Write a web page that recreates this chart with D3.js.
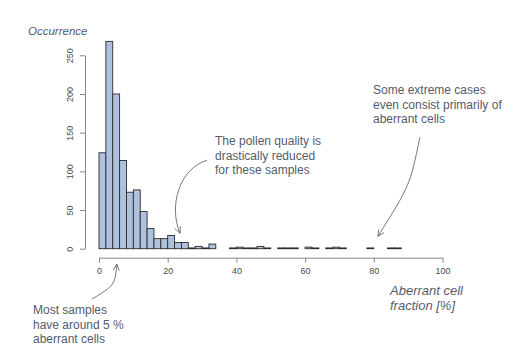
<html>
<head>
<script src="https://d3js.org/d3.v7.min.js"></script>
<style>
body { margin: 0; background: #fff; font-family: 'Liberation Sans', Arial, sans-serif; }
</style>
</head>
<body>
<div id="chart"></div>
<script>
// histogram of aberrant cell fraction, bins of 2 %
var binWidth = 2;
var counts = [124, 268, 200, 114, 73, 76, 48, 26, 13, 13, 17, 8, 8, 1, 3, 1, 6, 0, 0, 1,
              2, 1, 1, 3, 1, 0, 1, 1, 1, 0, 2, 1, 0, 1, 2, 1, 0, 0, 0, 1, 0, 0, 1, 1];
var xTicks = [0, 20, 40, 60, 80, 100];
var yTicks = [0, 50, 100, 150, 200, 250];

// notes: tip is in data units, start/ctrl are pixel offsets from the tip
var notes = [
  {lines: ["The pollen quality is", "drastically reduced", "for these samples"], tx: 215, ty: 145,
   tip: [23.6, 20], start: [27, -73], c1: [0, -65], c2: [-12, -28]},
  {lines: ["Some extreme cases", "even consist primarily of", "aberrant cells"], tx: 373, ty: 94,
   tip: [81.2, 16], start: [42, -99], c1: [32, -51], c2: [32, -51]},
  {lines: ["Most samples", "have around 5 %", "aberrant cells"], tx: 33, ty: 314,
   tip: [5.2, -20], start: [-25, 35], c1: [-2, 21], c2: [-2, 21]}
];

var width = 519, height = 360;
var svg = d3.select("#chart").append("svg").attr("width", width).attr("height", height);

var x = d3.scaleLinear().domain([0, 100]).range([99, 442.5]);
var y = d3.scaleLinear().domain([0, 250]).range([248.7, 55.3]);

var textCol = "#555c6b";

// bars
svg.selectAll(".bar")
  .data(counts)
  .enter().append("rect")
  .attr("class", "bar")
  .attr("x", function(d, i) { return x(i * binWidth); })
  .attr("width", function(d, i) { return x((i + 1) * binWidth) - x(i * binWidth); })
  .attr("y", function(d) { return y(d); })
  .attr("height", function(d) { return y(0) - y(d); })
  .style("fill", "#afc2dd")
  .style("stroke", "#2b2b2b")
  .style("stroke-width", 0.9);

// x axis
var xAxis = svg.append("g").attr("transform", "translate(0,257.7)")
  .call(d3.axisBottom(x).tickValues(xTicks).tickSize(5).tickPadding(5).tickSizeOuter(0));
xAxis.select(".domain").attr("stroke", "#888");
xAxis.selectAll(".tick line").attr("stroke", "#888");
xAxis.selectAll(".tick text").attr("fill", "#4a4a4a").style("font-size", "9px")
  .style("font-family", "'Liberation Sans', Arial, sans-serif");

// y axis
var yAxis = svg.append("g").attr("transform", "translate(85,0)")
  .call(d3.axisLeft(y).tickValues(yTicks).tickSize(5).tickPadding(0).tickSizeOuter(0));
yAxis.select(".domain").attr("stroke", "#888");
yAxis.selectAll(".tick line").attr("stroke", "#888");
yAxis.selectAll(".tick text")
  .attr("x", 0).attr("dy", 0)
  .attr("transform", "translate(-12,0) rotate(-90)")
  .attr("text-anchor", "middle")
  .attr("fill", "#4a4a4a").style("font-size", "9px")
  .style("font-family", "'Liberation Sans', Arial, sans-serif");

// axis titles
svg.append("text").attr("x", 28).attr("y", 35)
  .style("font-style", "italic").style("font-size", "11.5px").attr("fill", textCol)
  .text("Occurrence");

svg.append("text").attr("x", 390).attr("y", 294.5)
  .style("font-style", "italic").style("font-size", "13px").attr("fill", textCol)
  .selectAll("tspan").data(["Aberrant cell", "fraction [%]"])
  .enter().append("tspan").attr("x", 390).attr("dy", function(d, i) { return i ? 15 : 0; })
  .text(function(d) { return d; });

// annotations
notes.forEach(function(n) {
  svg.append("text").attr("x", n.tx).attr("y", n.ty)
    .style("font-size", "12px").attr("fill", textCol)
    .selectAll("tspan").data(n.lines)
    .enter().append("tspan").attr("x", n.tx).attr("dy", function(d, i) { return i ? 14.5 : 0; })
    .text(function(d) { return d; });

  var tx = x(n.tip[0]), ty = y(n.tip[1]);
  var p = d3.path();
  p.moveTo(tx + n.start[0], ty + n.start[1]);
  p.bezierCurveTo(tx + n.c1[0], ty + n.c1[1], tx + n.c2[0], ty + n.c2[1], tx, ty);
  svg.append("path").attr("d", p.toString())
    .attr("fill", "none").attr("stroke", "#555").attr("stroke-width", 0.8);

  // open arrowhead, arms pointing back along the curve
  var ang = Math.atan2(n.c2[1], n.c2[0]);
  var len = 7, spread = 0.45;
  var h = d3.path();
  h.moveTo(tx + len * Math.cos(ang + spread), ty + len * Math.sin(ang + spread));
  h.lineTo(tx, ty);
  h.lineTo(tx + len * Math.cos(ang - spread), ty + len * Math.sin(ang - spread));
  svg.append("path").attr("d", h.toString())
    .attr("fill", "none").attr("stroke", "#555").attr("stroke-width", 0.8);
});
</script>
</body>
</html>
